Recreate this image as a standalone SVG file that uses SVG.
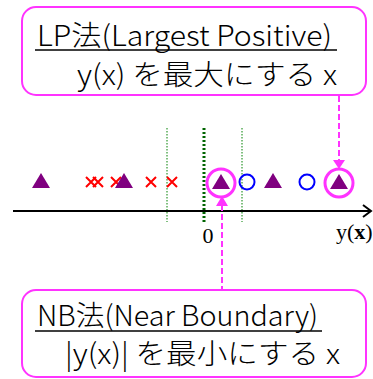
<svg xmlns="http://www.w3.org/2000/svg" width="373" height="379" viewBox="0 0 373 379">
  <style>
    .box { fill: #ffffff; stroke: #ff33ff; stroke-width: 2; }
    .label { font-family: "Noto Sans CJK JP", "Liberation Sans", sans-serif; font-size: 28px; font-weight: 300; fill: #000000; }
    .uline { stroke: #000000; stroke-width: 1.5; }
    .tri { fill: #800080; }
    .cross { stroke: #ff0000; stroke-width: 2; fill: none; }
    .blue { fill: none; stroke: #0000ff; stroke-width: 2; }
    .pick { fill: none; stroke: #ff33ff; stroke-width: 3; }
    .lead { stroke: #ff33ff; stroke-width: 2; stroke-dasharray: 6 3; fill: none; }
    .head { fill: #ff33ff; }
    .thin { stroke: #008000; stroke-width: 1; stroke-dasharray: 1.5 1.5; }
    .thick { stroke: #006400; stroke-width: 3; stroke-dasharray: 2 2; }
    .serif { font-family: "Liberation Serif", "DejaVu Serif", serif; font-size: 22px; fill: #000000; }
  </style>
  <defs>
    <polygon id="tri" class="tri" points="0,-8 9,7 -9,7"/>
    <path id="x" class="cross" d="M-5,-5 L5,5 M-5,5 L5,-5"/>
  </defs>

  <!-- threshold lines -->
  <g id="thresholds">
    <line class="thin" x1="167" y1="128" x2="167" y2="222"/>
    <line class="thick" x1="204" y1="128" x2="204" y2="222"/>
    <line class="thin" x1="242" y1="128" x2="242" y2="222"/>
  </g>

  <!-- axis -->
  <g id="axis">
    <line x1="13" y1="211" x2="371" y2="211" stroke="#000" stroke-width="2"/>
    <path d="M363,205 L371,211 L363,217" fill="none" stroke="#000" stroke-width="2"/>
    <text class="serif" x="208" y="243" text-anchor="middle">0</text>
    <text class="serif" x="336" y="239">y(<tspan font-weight="bold">x</tspan>)</text>
  </g>

  <!-- samples -->
  <g id="samples">
    <use href="#tri" x="41" y="181"/>
    <use href="#x" x="91" y="182"/>
    <use href="#x" x="98" y="182"/>
    <use href="#x" x="116" y="182"/>
    <use href="#tri" x="124" y="181"/>
    <use href="#x" x="151" y="182"/>
    <use href="#x" x="172" y="182"/>
    <use href="#tri" x="221" y="182"/>
    <circle class="blue" cx="247" cy="182" r="7.5"/>
    <use href="#tri" x="273" y="181"/>
    <circle class="blue" cx="307" cy="182" r="7.5"/>
    <use href="#tri" x="339" y="182"/>
  </g>

  <!-- selected samples -->
  <g id="picks">
    <circle class="pick" cx="221" cy="183" r="14"/>
    <circle class="pick" cx="339" cy="183" r="14"/>
  </g>

  <!-- connectors -->
  <g id="connectors">
    <line class="lead" x1="339" y1="96" x2="339" y2="161"/>
    <polygon class="head" points="333,160 345,160 339,169"/>
    <line class="lead" x1="222" y1="205" x2="222" y2="290"/>
    <polygon class="head" points="216,206 228,206 222,196"/>
  </g>

  <!-- LP box -->
  <g id="lp">
    <rect class="box" x="22" y="7" width="344" height="88" rx="14"/>
    <text class="label" x="37" y="46" textLength="295" lengthAdjust="spacingAndGlyphs">LP法(Largest Positive)</text>
    <line class="uline" x1="35" y1="50" x2="337" y2="50"/>
    <text class="label" x="77" y="85" textLength="260" lengthAdjust="spacingAndGlyphs">y(x) を最大にする x</text>
  </g>

  <!-- NB box -->
  <g id="nb">
    <rect class="box" x="22" y="290" width="344" height="87" rx="14"/>
    <text class="label" x="37" y="326" textLength="281" lengthAdjust="spacingAndGlyphs">NB法(Near Boundary)</text>
    <line class="uline" x1="35" y1="331" x2="322" y2="331"/>
    <text class="label" x="65" y="364" textLength="275" lengthAdjust="spacingAndGlyphs">|y(x)| を最小にする x</text>
  </g>
</svg>
